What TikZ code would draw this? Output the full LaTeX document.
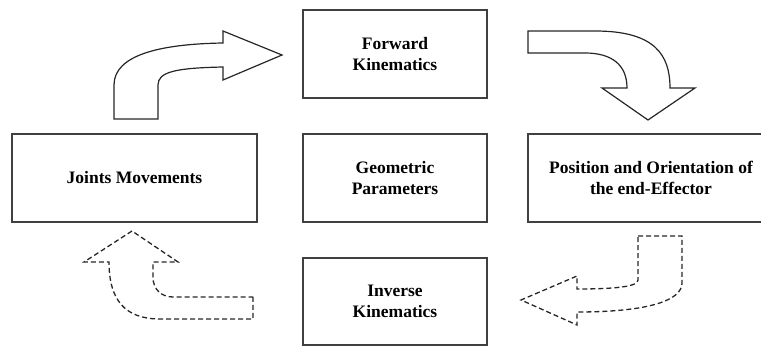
\documentclass[tikz,border=0pt]{standalone}
\usepackage{fontspec}
\setmainfont{Liberation Serif}
\usepackage{tikz}

\begin{document}
\begin{tikzpicture}[x=1pt, y=-1pt,
    blk/.style={draw=black!75, line width=1.4pt, fill=white, align=center,
        minimum width=184pt, minimum height=88pt, inner sep=0pt,
        font=\fontsize{17.5}{21.5}\selectfont\bfseries},
    bigarrow/.style={draw=black!85, line width=1.2pt, line join=miter},
    dasharrow/.style={draw=black!85, line width=1.3pt,
        dash pattern=on 5pt off 3pt}]
\useasboundingbox (0,0) rectangle (761,347);
\node[blk] (fk) at (395,54) {Forward\\Kinematics};
\node[blk, minimum width=245pt] (jm) at (134.5,178) {Joints Movements};
\node[blk] (geo) at (395,178) {Geometric\\Parameters};
\node[blk, minimum width=246pt] (pos) at (651,178) {Position and Orientation of\\the end-Effector};
\node[blk, minimum height=87pt] (ik) at (395,301.5) {Inverse\\Kinematics};
\draw[bigarrow] (114,119) -- (114,85) .. controls (114,55) and (160,44) .. (223,43)
    -- (223,31) -- (282,55) -- (223,80) -- (223,67)
    .. controls (175,68) and (158,72) .. (158,85) -- (158,119) -- cycle;
\draw[bigarrow] (528,31) -- (595,31) .. controls (655,31) and (670,55) .. (670,88)
    -- (695,88) -- (648,120) -- (602,88) -- (627,88)
    .. controls (627,65) and (612,53) .. (585,53) -- (528,53) -- cycle;
\draw[dasharrow] (638,236) -- (682,236) -- (682,283)
    .. controls (682,300) and (650,312) .. (577,312)
    -- (577,325) -- (521,300) -- (577,276) -- (577,289)
    .. controls (620,289) and (638,286) .. (638,280) -- cycle;
\draw[dasharrow] (253,297) -- (253,319) -- (160,319)
    .. controls (125,319) and (109,300) .. (109,262)
    -- (84,262) -- (132,231) -- (178,262) -- (153,262) -- (153,277)
    .. controls (153,290) and (162,297) .. (173,297) -- cycle;
\end{tikzpicture}
\end{document}
